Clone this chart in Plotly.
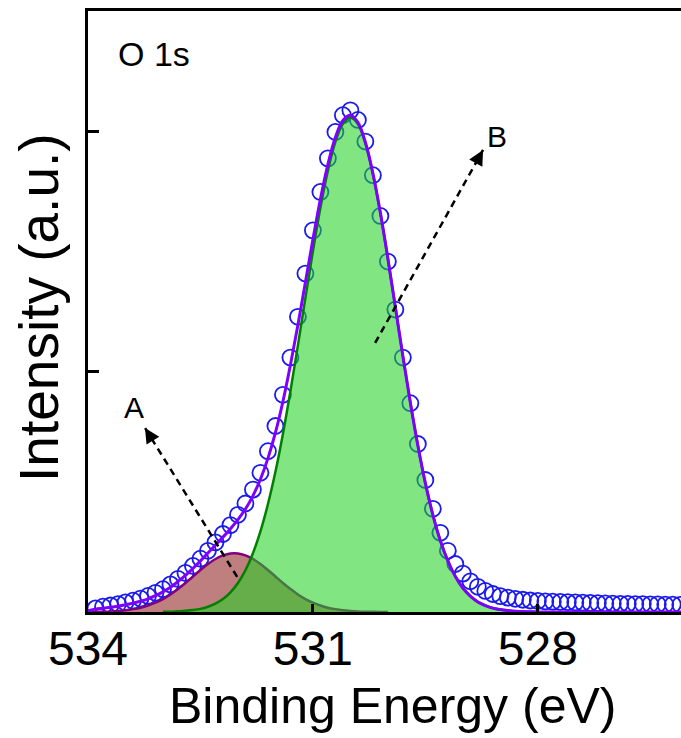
import plotly.graph_objects as go

# ---------------- data ----------------
# measured O 1s spectrum (binding energy in eV, intensity in a.u.)
exp_be = [533.9, 533.8, 533.7, 533.6, 533.5, 533.4, 533.3, 533.2, 533.1, 533.0,
          532.9, 532.8, 532.7, 532.6, 532.5, 532.4, 532.3, 532.2, 532.1, 532.0,
          531.9, 531.8, 531.7, 531.6, 531.5, 531.4, 531.3, 531.2, 531.1, 531.0,
          530.9, 530.8, 530.7, 530.6, 530.5, 530.4, 530.3, 530.2, 530.1, 530.0,
          529.9, 529.8, 529.7, 529.6, 529.5, 529.4, 529.3, 529.2, 529.1, 529.0,
          528.9, 528.8, 528.7, 528.6, 528.5, 528.4, 528.3, 528.2, 528.1, 528.0,
          527.9, 527.8, 527.7, 527.6, 527.5, 527.4, 527.3, 527.2, 527.1, 527.0,
          526.9, 526.8, 526.7, 526.6, 526.5, 526.4, 526.3, 526.2, 526.1]
exp_int = [0.015, 0.022, 0.027, 0.033, 0.040, 0.047, 0.056, 0.067, 0.080, 0.095,
           0.115, 0.138, 0.163, 0.192, 0.222, 0.255, 0.290, 0.325, 0.362, 0.405,
           0.452, 0.510, 0.580, 0.670, 0.775, 0.905, 1.060, 1.230, 1.410, 1.590,
           1.750, 1.890, 2.000, 2.070, 2.090, 2.050, 1.960, 1.820, 1.650, 1.460,
           1.260, 1.060, 0.870, 0.700, 0.550, 0.430, 0.330, 0.255, 0.200, 0.160,
           0.128, 0.105, 0.088, 0.075, 0.066, 0.060, 0.055, 0.051, 0.048, 0.046,
           0.044, 0.043, 0.042, 0.041, 0.040, 0.039, 0.038, 0.037, 0.036, 0.035,
           0.034, 0.034, 0.033, 0.033, 0.032, 0.032, 0.031, 0.031, 0.030]

# fitted component A
peakA_be = [534.0, 533.9, 533.8, 533.7, 533.6, 533.5, 533.4, 533.3, 533.2, 533.1,
            533.0, 532.9, 532.8, 532.7, 532.6, 532.5, 532.4, 532.3, 532.2, 532.1,
            532.0, 531.9, 531.8, 531.7, 531.6, 531.5, 531.4, 531.3, 531.2, 531.1,
            531.0, 530.9, 530.8, 530.7, 530.6, 530.5, 530.4, 530.3, 530.2, 530.1, 530.0]
peakA_int = [0.0004, 0.0008, 0.0015, 0.0026, 0.0045, 0.0074, 0.012, 0.018, 0.027, 0.039,
             0.054, 0.073, 0.096, 0.121, 0.148, 0.175, 0.200, 0.221, 0.236, 0.244,
             0.244, 0.236, 0.221, 0.200, 0.175, 0.148, 0.121, 0.096, 0.073, 0.054,
             0.039, 0.027, 0.018, 0.012, 0.0074, 0.0045, 0.0026, 0.0015, 0.0008, 0.0004, 0.0002]

# fitted component B
peakB_be = [533.0, 532.9, 532.8, 532.7, 532.6, 532.5, 532.4, 532.3, 532.2, 532.1,
            532.0, 531.9, 531.8, 531.7, 531.6, 531.5, 531.4, 531.3, 531.2, 531.1,
            531.0, 530.9, 530.8, 530.7, 530.6, 530.5, 530.4, 530.3, 530.2, 530.1,
            530.0, 529.9, 529.8, 529.7, 529.6, 529.5, 529.4, 529.3, 529.2, 529.1,
            529.0, 528.9, 528.8, 528.7, 528.6, 528.5, 528.4, 528.3, 528.2, 528.1, 528.0]
peakB_int = [0.001, 0.001, 0.003, 0.005, 0.008, 0.013, 0.022, 0.035, 0.054, 0.082,
             0.121, 0.174, 0.245, 0.336, 0.449, 0.584, 0.742, 0.920, 1.111, 1.309,
             1.503, 1.684, 1.839, 1.959, 2.034, 2.060, 2.033, 1.952, 1.825, 1.661,
             1.472, 1.270, 1.066, 0.872, 0.694, 0.537, 0.405, 0.297, 0.213, 0.148,
             0.100, 0.066, 0.042, 0.027, 0.016, 0.010, 0.006, 0.003, 0.002, 0.001, 0.000]

# fit envelope
env_be = [534.0, 533.9, 533.8, 533.7, 533.6, 533.5, 533.4, 533.3, 533.2, 533.1,
          533.0, 532.9, 532.8, 532.7, 532.6, 532.5, 532.4, 532.3, 532.2, 532.1,
          532.0, 531.9, 531.8, 531.7, 531.6, 531.5, 531.4, 531.3, 531.2, 531.1,
          531.0, 530.9, 530.8, 530.7, 530.6, 530.5, 530.4, 530.3, 530.2, 530.1,
          530.0, 529.9, 529.8, 529.7, 529.6, 529.5, 529.4, 529.3, 529.2, 529.1,
          529.0, 528.9, 528.8, 528.7, 528.6, 528.5, 528.4, 528.3, 528.2, 528.1,
          528.0, 527.5, 527.0, 526.5, 526.0]
env_int = [0.005, 0.012, 0.016, 0.020, 0.024, 0.030, 0.037, 0.045, 0.055, 0.068,
           0.084, 0.103, 0.127, 0.153, 0.182, 0.213, 0.246, 0.279, 0.312, 0.347,
           0.385, 0.429, 0.484, 0.553, 0.640, 0.747, 0.877, 1.029, 1.196, 1.374,
           1.552, 1.720, 1.865, 1.978, 2.048, 2.070, 2.040, 1.957, 1.828, 1.663,
           1.473, 1.270, 1.066, 0.872, 0.694, 0.537, 0.405, 0.297, 0.213, 0.148,
           0.100, 0.066, 0.042, 0.027, 0.016, 0.010, 0.006, 0.003, 0.002, 0.001,
           0.0, 0.0, 0.0, 0.0, 0.0]

x_ticks = [534, 531, 528]
x_ticklabels = ["534", "531", "528"]
y_ticks = [1, 2]

# arrows: (tail_x, tail_y, head_x, head_y)
arrowA = (532.01, 0.146, 533.24, 0.767)
arrowB = (530.17, 1.121, 528.73, 1.925)
labelA = (533.39, 0.85, "A")
labelB = (528.55, 1.98, "B")

FONT = "Arial, Liberation Sans, sans-serif"

# ---------------- figure ----------------
fig = go.Figure()

fig.add_trace(go.Scatter(
    x=exp_be, y=exp_int, mode="markers",
    marker=dict(symbol="circle-open", size=16, color="#1a1aee",
                line=dict(width=1.8, color="#1a1aee")),
    showlegend=False))

fig.add_trace(go.Scatter(
    x=peakA_be, y=peakA_int, mode="lines", fill="tozeroy",
    fillcolor="rgba(128,0,0,0.5)",
    line=dict(color="#800080", width=2.5, shape="spline"),
    showlegend=False))

fig.add_trace(go.Scatter(
    x=peakB_be, y=peakB_int, mode="lines", fill="tozeroy",
    fillcolor="rgba(30,210,30,0.56)",
    line=dict(color="#008000", width=2.5, shape="spline"),
    showlegend=False))

fig.add_trace(go.Scatter(
    x=env_be, y=env_int, mode="lines",
    line=dict(color="#7f00ff", width=3, shape="spline"),
    showlegend=False))

# dashed arrows
for (tx, ty, hx, hy), (axp, ayp) in [(arrowA, (7.4, 11.9)), (arrowB, (-6.8, 12.2))]:
    fig.add_shape(type="line", xref="x", yref="y", x0=tx, y0=ty, x1=hx, y1=hy,
                  line=dict(color="black", width=2.5, dash="7px,5px"), layer="above")
    fig.add_annotation(x=hx, y=hy, xref="x", yref="y", ax=axp, ay=ayp,
                       showarrow=True, arrowhead=2, arrowsize=1.2, arrowwidth=2.5,
                       arrowcolor="black", text="")

for lx, ly, txt in [labelA, labelB]:
    fig.add_annotation(x=lx, y=ly, xref="x", yref="y", text=txt, showarrow=False,
                       font=dict(family=FONT, size=30, color="black"))

fig.add_annotation(x=0.048, y=0.928, xref="paper", yref="paper", text="O 1s",
                   xanchor="left", yanchor="middle", showarrow=False,
                   font=dict(family=FONT, size=34, color="black"))

# axis titles
fig.add_annotation(x=-0.0826, y=0.506, xref="paper", yref="paper",
                   text="Intensity (a.u.)", textangle=-90, showarrow=False,
                   xanchor="center", yanchor="middle",
                   font=dict(family=FONT, size=55, color="black"))
fig.add_annotation(x=0.513, y=-0.1564, xref="paper", yref="paper",
                   text="Binding Energy (eV)", showarrow=False,
                   xanchor="center", yanchor="middle",
                   font=dict(family=FONT, size=50, color="black"))

fig.update_layout(
    width=681, height=738,
    margin=dict(l=88, r=0, t=11, b=126),
    paper_bgcolor="white", plot_bgcolor="white",
    font=dict(family=FONT, color="black"),
)
fig.update_xaxes(
    range=[534, 526.09], autorange=False,
    tickvals=x_ticks, ticktext=x_ticklabels,
    ticks="inside", ticklen=8, tickwidth=2.5, tickcolor="black",
    showline=True, linewidth=3, linecolor="black", mirror=True,
    showgrid=False, zeroline=False, ticklabelstandoff=-8,
    tickfont=dict(family=FONT, size=48, color="black"),
)
fig.update_yaxes(
    range=[0, 2.504], autorange=False,
    tickvals=y_ticks, showticklabels=False,
    ticks="inside", ticklen=11, tickwidth=2.5, tickcolor="black",
    showline=True, linewidth=3, linecolor="black", mirror=False,
    showgrid=False, zeroline=False,
)

fig.write_html("out.html")
